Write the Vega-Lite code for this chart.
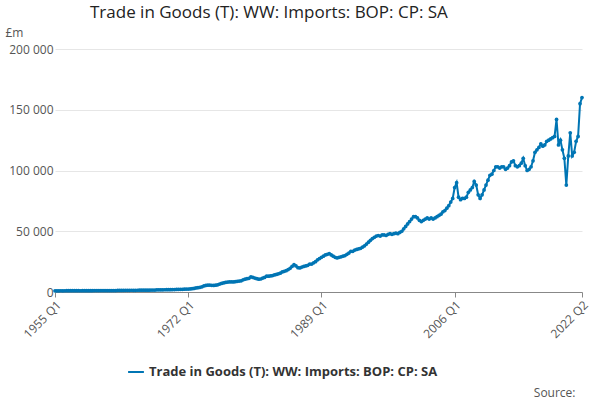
{
  "$schema": "https://vega.github.io/schema/vega-lite/v6.json",
  "autosize": {"type": "fit", "contains": "padding"},
  "width": 600,
  "height": 400,
  "padding": {"left": 5, "right": 10, "top": 4, "bottom": 2},
  "title": {"text": "Trade in Goods (T): WW: Imports: BOP: CP: SA", "fontSize": 17, "fontWeight": "normal", "font": "Open Sans", "anchor": "start", "offset": 4, "dx": 85, "color": "#222"},
  "config": {"font": "Open Sans", "view": {"stroke": null}},
  "data": {"values": [
{"t":0,"v":1000},{"t":1,"v":1010},{"t":2,"v":1020},{"t":3,"v":1030},{"t":4,"v":1020},{"t":5,"v":1030},{"t":6,"v":1040},{"t":7,"v":1050},{"t":8,"v":1060},{"t":9,"v":1070},
{"t":10,"v":1080},{"t":11,"v":1070},{"t":12,"v":1040},{"t":13,"v":1030},{"t":14,"v":1040},{"t":15,"v":1050},{"t":16,"v":1060},{"t":17,"v":1080},{"t":18,"v":1100},{"t":19,"v":1120},
{"t":20,"v":1160},{"t":21,"v":1180},{"t":22,"v":1190},{"t":23,"v":1200},{"t":24,"v":1200},{"t":25,"v":1190},{"t":26,"v":1180},{"t":27,"v":1170},{"t":28,"v":1190},{"t":29,"v":1200},
{"t":30,"v":1210},{"t":31,"v":1220},{"t":32,"v":1250},{"t":33,"v":1270},{"t":34,"v":1300},{"t":35,"v":1330},{"t":36,"v":1380},{"t":37,"v":1400},{"t":38,"v":1420},{"t":39,"v":1440},
{"t":40,"v":1420},{"t":41,"v":1430},{"t":42,"v":1440},{"t":43,"v":1460},{"t":44,"v":1480},{"t":45,"v":1490},{"t":46,"v":1500},{"t":47,"v":1490},{"t":48,"v":1530},{"t":49,"v":1560},
{"t":50,"v":1580},{"t":51,"v":1620},{"t":52,"v":1750},{"t":53,"v":1780},{"t":54,"v":1800},{"t":55,"v":1820},{"t":56,"v":1850},{"t":57,"v":1870},{"t":58,"v":1900},{"t":59,"v":1950},
{"t":60,"v":2000},{"t":61,"v":2050},{"t":62,"v":2100},{"t":63,"v":2150},{"t":64,"v":2200},{"t":65,"v":2250},{"t":66,"v":2300},{"t":67,"v":2380},{"t":68,"v":2450},{"t":69,"v":2550},
{"t":70,"v":2700},{"t":71,"v":2900},{"t":72,"v":3300},{"t":73,"v":3600},{"t":74,"v":3900},{"t":75,"v":4300},{"t":76,"v":5000},{"t":77,"v":5400},{"t":78,"v":5600},{"t":79,"v":5700},
{"t":80,"v":5500},{"t":81,"v":5400},{"t":82,"v":5600},{"t":83,"v":5900},{"t":84,"v":6500},{"t":85,"v":7000},{"t":86,"v":7500},{"t":87,"v":7900},{"t":88,"v":8200},{"t":89,"v":8300},
{"t":90,"v":8400},{"t":91,"v":8300},{"t":92,"v":8500},{"t":93,"v":8800},{"t":94,"v":9000},{"t":95,"v":9200},{"t":96,"v":10000},{"t":97,"v":10500},{"t":98,"v":11000},{"t":99,"v":11300},
{"t":100,"v":12500},{"t":101,"v":12000},{"t":102,"v":11500},{"t":103,"v":11000},{"t":104,"v":10500},{"t":105,"v":10700},{"t":106,"v":11500},{"t":107,"v":12000},{"t":108,"v":13000},{"t":109,"v":13000},
{"t":110,"v":13200},{"t":111,"v":13500},{"t":112,"v":14000},{"t":113,"v":14500},{"t":114,"v":15000},{"t":115,"v":15500},{"t":116,"v":16500},{"t":117,"v":17000},{"t":118,"v":17500},{"t":119,"v":18500},
{"t":120,"v":19500},{"t":121,"v":21000},{"t":122,"v":22500},{"t":123,"v":21500},{"t":124,"v":20000},{"t":125,"v":19800},{"t":126,"v":20500},{"t":127,"v":21000},{"t":128,"v":21500},{"t":129,"v":22000},
{"t":130,"v":23000},{"t":131,"v":23000},{"t":132,"v":24000},{"t":133,"v":25000},{"t":134,"v":26500},{"t":135,"v":27500},{"t":136,"v":28500},{"t":137,"v":29500},{"t":138,"v":30500},{"t":139,"v":31000},
{"t":140,"v":31500},{"t":141,"v":30500},{"t":142,"v":29500},{"t":143,"v":28500},{"t":144,"v":28000},{"t":145,"v":28500},{"t":146,"v":29000},{"t":147,"v":29500},{"t":148,"v":30000},{"t":149,"v":31000},
{"t":150,"v":32000},{"t":151,"v":33500},{"t":152,"v":33500},{"t":153,"v":34500},{"t":154,"v":35000},{"t":155,"v":35500},{"t":156,"v":36000},{"t":157,"v":37000},{"t":158,"v":38000},{"t":159,"v":39500},
{"t":160,"v":41000},{"t":161,"v":42500},{"t":162,"v":44000},{"t":163,"v":45000},{"t":164,"v":46000},{"t":165,"v":46500},{"t":166,"v":46000},{"t":167,"v":47000},{"t":168,"v":47000},{"t":169,"v":46500},
{"t":170,"v":47500},{"t":171,"v":48000},{"t":172,"v":47500},{"t":173,"v":48000},{"t":174,"v":48500},{"t":175,"v":48000},{"t":176,"v":49000},{"t":177,"v":50000},{"t":178,"v":52000},{"t":179,"v":54000},
{"t":180,"v":56000},{"t":181,"v":58000},{"t":182,"v":60000},{"t":183,"v":62000},{"t":184,"v":62000},{"t":185,"v":61000},{"t":186,"v":59000},{"t":187,"v":58000},{"t":188,"v":59000},{"t":189,"v":60000},
{"t":190,"v":61000},{"t":191,"v":60000},{"t":192,"v":61000},{"t":193,"v":60000},{"t":194,"v":61000},{"t":195,"v":62000},{"t":196,"v":63000},{"t":197,"v":64000},{"t":198,"v":66000},{"t":199,"v":67000},
{"t":200,"v":69000},{"t":201,"v":71000},{"t":202,"v":74000},{"t":203,"v":77000},{"t":204,"v":86000},{"t":205,"v":90000},{"t":206,"v":78000},{"t":207,"v":76000},{"t":208,"v":77000},{"t":209,"v":77000},
{"t":210,"v":78000},{"t":211,"v":82000},{"t":212,"v":84000},{"t":213,"v":86000},{"t":214,"v":91000},{"t":215,"v":88000},{"t":216,"v":80000},{"t":217,"v":77000},{"t":218,"v":80000},{"t":219,"v":84000},
{"t":220,"v":88000},{"t":221,"v":92000},{"t":222,"v":96000},{"t":223,"v":97000},{"t":224,"v":100000},{"t":225,"v":103000},{"t":226,"v":103000},{"t":227,"v":102000},{"t":228,"v":103000},{"t":229,"v":103000},
{"t":230,"v":101000},{"t":231,"v":102000},{"t":232,"v":104000},{"t":233,"v":107000},{"t":234,"v":108000},{"t":235,"v":104000},{"t":236,"v":103000},{"t":237,"v":104000},{"t":238,"v":106000},{"t":239,"v":110000},
{"t":240,"v":104000},{"t":241,"v":100000},{"t":242,"v":101000},{"t":243,"v":103000},{"t":244,"v":108000},{"t":245,"v":115000},{"t":246,"v":117000},{"t":247,"v":119000},{"t":248,"v":122000},{"t":249,"v":120000},
{"t":250,"v":121000},{"t":251,"v":124000},{"t":252,"v":125000},{"t":253,"v":126000},{"t":254,"v":127000},{"t":255,"v":128000},{"t":256,"v":142000},{"t":257,"v":121000},{"t":258,"v":125000},{"t":259,"v":117000},
{"t":260,"v":110000},{"t":261,"v":88000},{"t":262,"v":112000},{"t":263,"v":131000},{"t":264,"v":112000},{"t":265,"v":115000},{"t":266,"v":124000},{"t":267,"v":128000},{"t":268,"v":155000},{"t":269,"v":160000}
  ]},
  "mark": {"type": "line", "color": "#0075b4", "strokeWidth": 2, "point": {"filled": true, "size": 14, "color": "#0075b4"}},
  "encoding": {
    "x": {"field": "t", "type": "quantitative", "scale": {"domain": [0, 269], "nice": false, "zero": false},
      "axis": {"values": [0, 68, 136, 204, 269], "labelExpr": "(floor(datum.value/4)+1955) + ' Q' + (datum.value%4+1)", "labelAngle": -45, "labelAlign": "right", "labelFontSize": 12, "labelColor": "#555", "grid": false, "tickColor": "#888", "domainColor": "#888",
        "title": "Source:", "titleAnchor": "end", "titleAlign": "right", "titleFontWeight": "normal", "titleFontSize": 12, "titleColor": "#555", "titleX": 520, "titleY": 95}},
    "y": {"field": "v", "type": "quantitative", "scale": {"domain": [0, 200000]},
      "axis": {"values": [0, 50000, 100000, 150000, 200000], "format": ",d", "labelExpr": "replace(datum.label, ',', ' ')", "labelFontSize": 12, "labelColor": "#555", "domain": false, "ticks": false, "gridColor": "#e6e6e6",
        "title": "£m", "titleAngle": 0, "titleAlign": "left", "titleAnchor": "end", "titleY": -10, "titleX": -50, "titleFontWeight": "normal", "titleFontSize": 12, "titleColor": "#555"}},
    "color": {"datum": "Trade in Goods (T): WW: Imports: BOP: CP: SA", "scale": {"range": ["#0075b4"]},
      "legend": {"orient": "none", "legendX": 72, "legendY": 314, "title": null, "labelFontSize": 13, "labelFontWeight": "bold", "labelColor": "#333", "symbolType": "stroke", "symbolStrokeWidth": 2, "symbolSize": 250, "labelLimit": 500}}
  }
}
